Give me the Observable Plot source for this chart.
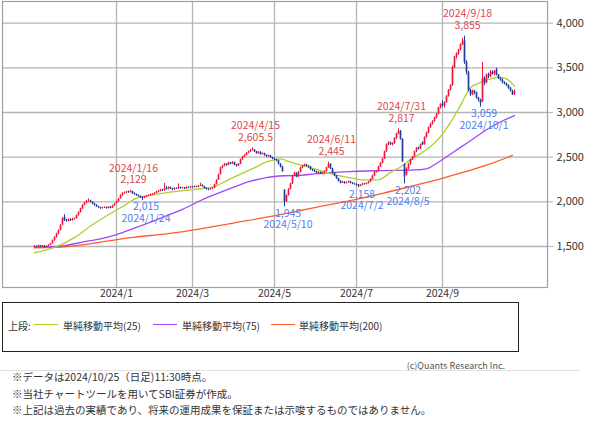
<!DOCTYPE html>
<html><head><meta charset="utf-8">
<script src="https://cdn.jsdelivr.net/npm/d3@7"></script>
<script src="https://cdn.jsdelivr.net/npm/@observablehq/plot@0.6"></script>
<style>
body{margin:0;background:#fff;font-family:"Noto Sans CJK JP","Noto Sans",sans-serif;color:#333;}
#wrap{position:relative;width:600px;height:430px;overflow:hidden;}
#chart{position:absolute;left:0;top:0;}
#legend{position:absolute;left:2px;top:302px;width:517px;height:50px;border:1px solid #222;box-sizing:border-box;}
#legend span{position:absolute;top:22px;transform:translateY(-50%);font-size:10px;color:#333;white-space:nowrap;}
#legend i{position:absolute;top:21px;height:1.3px;width:24px;}
#copy{position:absolute;right:95px;top:359px;font-size:9px;color:#555;}
#hr{position:absolute;left:0;top:370px;width:580px;height:1px;background:#e0e0e0;}
.note{position:absolute;left:12px;font-size:10.5px;color:#333;white-space:nowrap;}
</style>
</head><body>
<div id="wrap">
<div id="chart"></div>
<div id="legend"></div>
<div id="copy">(c)Quants Research Inc.</div>
<div id="hr"></div>
<div class="note" style="top:369px">※データは2024/10/25（日足)11:30時点。</div>
<div class="note" style="top:386px">※当社チャートツールを用いてSBI証券が作成。</div>
<div class="note" style="top:402px">※上記は過去の実績であり、将来の運用成果を保証または示唆するものではありません。</div>
</div>
<script>
// ---- data: daily candles [open, high, low, close] per month ----
const nov23 = [[1490,1510,1485,1500],[1500,1505,1488,1495],[1495,1515,1492,1510],[1510,1512,1495,1498],[1498,1512,1494,1505],[1505,1508,1486,1490],[1490,1506,1488,1502],[1502,1520,1500,1515],[1515,1535,1510,1530],[1532,1572,1528,1565],[1565,1608,1560,1600],[1600,1648,1595,1640],[1640,1685,1632,1675],[1680,1745,1675,1735],[1740,1820,1735,1810],[1830,1855,1780,1790],[1790,1805,1770,1785],[1785,1810,1775,1800],[1800,1808,1780,1790],[1790,1815,1785,1805]];
const dec23 = [[1805,1820,1795,1810],[1812,1852,1808,1845],[1845,1888,1840,1880],[1882,1928,1875,1920],[1920,1968,1915,1960],[1965,1992,1955,1985],[1985,2015,1978,2005],[2010,2032,1995,2010],[2010,2018,1988,1995],[1995,2000,1968,1975],[1975,1985,1952,1960],[1960,1968,1938,1945],[1945,1952,1928,1935],[1935,1940,1915,1925],[1925,1940,1920,1930],[1930,1945,1925,1935],[1935,1940,1918,1925],[1925,1948,1922,1940],[1940,1945,1922,1930],[1930,1962,1928,1955],[1955,1982,1950,1975]];
const jan24 = [[1980,2008,1975,2000],[2000,2038,1995,2030],[2035,2078,2030,2070],[2070,2102,2062,2095],[2095,2110,2085,2100],[2100,2118,2092,2110],[2110,2120,2095,2105],[2105,2129,2098,2115],[2115,2118,2085,2090],[2090,2100,2075,2080],[2080,2088,2062,2070],[2070,2078,2052,2060],[2060,2066,2038,2045],[2045,2058,2015,2040],[2040,2062,2035,2055],[2055,2072,2048,2065],[2065,2078,2058,2070],[2070,2088,2062,2080],[2080,2092,2072,2085]];
const feb24 = [[2085,2102,2078,2095],[2095,2118,2090,2110],[2110,2128,2102,2120],[2120,2140,2112,2130],[2130,2138,2115,2125],[2125,2205,2120,2150],[2150,2172,2132,2140],[2140,2168,2135,2160],[2160,2165,2138,2145],[2145,2150,2125,2135],[2135,2158,2130,2150],[2150,2156,2138,2145],[2145,2200,2140,2160],[2160,2165,2142,2150],[2150,2162,2144,2155],[2155,2160,2138,2145],[2145,2168,2140,2160],[2160,2166,2148,2155],[2155,2172,2150,2165]];
const mar24 = [[2165,2170,2152,2160],[2160,2178,2155,2170],[2170,2175,2158,2165],[2165,2182,2160,2175],[2175,2208,2170,2185],[2185,2190,2165,2170],[2170,2174,2145,2150],[2150,2156,2132,2140],[2140,2146,2125,2135],[2135,2152,2130,2145],[2145,2158,2138,2150],[2152,2198,2148,2190],[2192,2248,2188,2240],[2245,2310,2240,2300],[2305,2390,2300,2380],[2380,2410,2370,2400],[2400,2430,2392,2420],[2420,2428,2398,2410],[2410,2445,2405,2435],[2435,2440,2415,2425]];
const apr24 = [[2425,2450,2420,2440],[2440,2445,2405,2415],[2415,2420,2390,2400],[2400,2428,2395,2420],[2420,2478,2415,2470],[2470,2508,2465,2500],[2500,2528,2495,2520],[2520,2552,2515,2545],[2545,2568,2538,2560],[2560,2585,2552,2575],[2575,2605.5,2568,2580],[2580,2585,2552,2560],[2560,2565,2532,2540],[2540,2562,2535,2555],[2555,2560,2522,2530],[2530,2548,2525,2540],[2540,2545,2512,2520],[2520,2525,2498,2505],[2505,2522,2500,2515],[2515,2520,2488,2495],[2495,2500,2472,2480]];
const may24 = [[2480,2488,2462,2470],[2470,2478,2450,2460],[2460,2465,2412,2420],[2420,2428,2380,2390],[2390,2398,2330,2340],[2130,2135,1945,2000],[2000,2078,1995,2070],[2070,2148,2065,2140],[2140,2208,2135,2200],[2200,2298,2195,2290],[2290,2330,2282,2320],[2320,2325,2270,2280],[2280,2340,2275,2330],[2330,2388,2325,2380],[2380,2408,2372,2400],[2400,2422,2392,2415],[2415,2420,2392,2400],[2400,2405,2380,2390],[2390,2395,2352,2360],[2360,2365,2340,2350],[2350,2356,2328,2335]];
const jun24 = [[2335,2342,2312,2320],[2320,2338,2315,2330],[2330,2335,2305,2310],[2310,2330,2305,2325],[2325,2348,2320,2340],[2340,2388,2335,2380],[2380,2445,2375,2420],[2420,2425,2362,2370],[2370,2375,2312,2320],[2320,2325,2282,2290],[2290,2295,2252,2260],[2260,2265,2222,2230],[2230,2238,2202,2210],[2210,2228,2205,2220],[2220,2225,2198,2205],[2205,2222,2200,2215],[2215,2232,2210,2225],[2225,2230,2202,2210],[2210,2215,2192,2200],[2200,2208,2185,2195]];
const jul24 = [[2195,2200,2175,2190],[2190,2195,2158,2175],[2175,2192,2170,2185],[2185,2208,2180,2200],[2200,2205,2188,2195],[2195,2212,2190,2205],[2205,2228,2200,2220],[2220,2258,2215,2250],[2250,2298,2245,2290],[2290,2338,2285,2330],[2330,2348,2322,2340],[2340,2398,2335,2390],[2390,2438,2385,2430],[2430,2488,2425,2480],[2480,2568,2475,2560],[2560,2648,2555,2640],[2640,2675,2630,2660],[2660,2668,2630,2640],[2640,2662,2625,2650],[2650,2718,2645,2710],[2710,2768,2700,2760],[2760,2817,2750,2790]];
const aug24 = [[2790,2798,2690,2700],[2700,2705,2440,2450],[2420,2425,2202,2280],[2300,2380,2290,2370],[2370,2428,2360,2420],[2420,2478,2410,2470],[2470,2508,2462,2500],[2500,2568,2495,2560],[2560,2608,2552,2600],[2600,2612,2580,2590],[2590,2648,2585,2640],[2660,2672,2630,2640],[2640,2728,2635,2720],[2720,2778,2712,2770],[2770,2838,2762,2830],[2830,2878,2822,2870],[2870,2908,2860,2900],[2900,2948,2892,2940],[2940,2988,2930,2980],[2980,3058,2972,3050],[3050,3098,3040,3090]];
const sep24 = [[3090,3130,3060,3075],[3075,3120,3050,3110],[3110,3188,3105,3180],[3180,3258,3172,3250],[3250,3310,3240,3300],[3300,3520,3295,3500],[3500,3630,3490,3620],[3620,3668,3600,3660],[3660,3708,3640,3700],[3700,3768,3690,3760],[3760,3830,3750,3800],[3800,3855,3540,3560],[3560,3580,3420,3450],[3450,3460,3230,3250],[3250,3262,3180,3200],[3200,3250,3190,3240],[3240,3248,3200,3220],[3220,3228,3150,3160],[3160,3170,3120,3140]];
const oct24 = [[3140,3150,3059,3100],[3120,3560,3110,3380],[3380,3400,3300,3330],[3330,3430,3320,3420],[3420,3440,3380,3400],[3400,3470,3390,3450],[3450,3468,3420,3430],[3430,3470,3410,3460],[3480,3495,3410,3420],[3420,3425,3370,3380],[3380,3390,3350,3360],[3360,3375,3320,3330],[3330,3345,3310,3320],[3320,3330,3290,3300],[3300,3310,3260,3270],[3270,3280,3230,3240],[3240,3250,3190,3200],[3200,3250,3190,3230]];

// moving averages, sampled at trading-day indices
const ma25Days = [0,10,20,30,40,45,50,60,70,80,90,95,100,105,110,115,120,123,128,135,140,150,160,165,172,178,183,188,193,198,203,208,213,218,223,228,232,236,240];
const ma25 = [1430,1490,1600,1760,1895,1960,2030,2080,2115,2140,2170,2225,2280,2330,2380,2440,2470,2480,2445,2400,2370,2305,2260,2245,2246,2330,2390,2470,2540,2620,2730,2890,3080,3280,3335,3376,3395,3376,3295];
const ma75Days = [0,15,25,33,41,50,58,66,74,83,91,99,108,116,125,133,140,157,173,190,196,201,206,213,220,228,234,240];
const ma75 = [1492,1510,1555,1586,1634,1705,1772,1845,1915,2015,2090,2160,2231,2272,2292,2297,2313,2339,2350,2358,2370,2430,2505,2610,2715,2835,2905,2966];
const ma200Days = [0,16,33,50,66,83,100,116,133,140,156,173,190,203,215,226,239];
const ma200 = [1485,1500,1548,1604,1642,1698,1765,1828,1903,1935,2005,2090,2183,2258,2335,2410,2520];

// annotations
const highDates = ["2024-01-16","2024-04-15","2024-06-11","2024-07-31","2024-09-18"];
const highValues = [2129,2605.5,2445,2817,3855];
const lowDates = ["2024-01-24","2024-05-10","2024-07-02","2024-08-05","2024-10-01"];
const lowValues = [2015,1945,2158,2202,3059];

// axis ticks
const tickMonths = ["2024-01","2024-03","2024-05","2024-07","2024-09"];
const tickLabels = ["2024/1","2024/3","2024/5","2024/7","2024/9"];
const yTicks = [1500,2000,2500,3000,3500,4000];

const holidays = ["2023-11-03","2023-11-23","2024-01-01","2024-01-02","2024-01-03","2024-01-08","2024-02-12","2024-02-23","2024-03-20","2024-04-29","2024-05-03","2024-05-06","2024-07-15","2024-08-12","2024-09-16","2024-09-23","2024-10-14"];

// ---- build ----
const days = [];
for (let d = new Date(Date.UTC(2023,10,1)); d <= new Date(Date.UTC(2024,9,25)); d.setUTCDate(d.getUTCDate()+1)) {
  const wd = d.getUTCDay(); const s = d.toISOString().slice(0,10);
  if (wd > 0 && wd < 6 && !holidays.includes(s)) days.push(s);
}
const candles = [nov23,dec23,jan24,feb24,mar24,apr24,may24,jun24,jul24,aug24,sep24,oct24].flat()
  .map(([o,h,l,c], i) => ({i, o, h, l, c}));
const up = candles.filter(d => d.c >= d.o), down = candles.filter(d => d.c < d.o);
const tickIdx = tickMonths.map(m => days.findIndex(s => s.startsWith(m)));
const fmtDate = s => { const [y,m,d] = s.split("-"); return `${y}/${+m}/${+d}`; };
const fmtNum = d3.format(",");
const highAnn = highDates.map((s,k) => ({i: days.indexOf(s), v: highValues[k], label: `${fmtDate(s)}\n${fmtNum(highValues[k])}`}));
const lowAnn = lowDates.map((s,k) => ({i: days.indexOf(s), v: lowValues[k], label: `${fmtNum(lowValues[k])}\n${fmtDate(s)}`}));
const mk = (ds, vs) => ds.map((i,k) => ({i, v: vs[k]}));

const RED = "#f0163a", BLUE = "#1f3c96", RTXT = "#e0464a", BTXT = "#4f7ff0";
const C25 = "#a8d22c", C75 = "#a445f5", C200 = "#ff5a2e";
const GRID = "#b4b4b4";

const chart = Plot.plot({
  width: 600, height: 302,
  marginLeft: 2, marginRight: 53, marginTop: 1, marginBottom: 15,
  style: {fontFamily: '"Noto Sans CJK JP","Noto Sans",sans-serif', fontSize: "11px", color: "#333", background: "#fff"},
  x: {type: "linear", domain: [-16, 256.5], axis: null, label: null},
  y: {domain: [1041, 4243], axis: null, label: null},
  marks: [
    Plot.gridY(yTicks, {stroke: GRID, strokeOpacity: 1, strokeWidth: 1.3}),
    Plot.gridX(tickIdx, {stroke: GRID, strokeOpacity: 1, strokeWidth: 1.3}),
    Plot.axisY(yTicks, {anchor: "right", label: null, tickSize: 5, tickPadding: 4, tickFormat: fmtNum, stroke: GRID, fill: "#333", fontSize: 11}),
    Plot.axisX(tickIdx, {anchor: "bottom", label: null, tickSize: 0, tickPadding: 2, tickFormat: (d,k) => tickLabels[k], fill: "#333", fontSize: 10.5}),
    Plot.frame({stroke: "#a0a0a0", strokeWidth: 1.2}),
    Plot.line(mk(ma200Days, ma200), {x: "i", y: "v", stroke: C200, strokeWidth: 1.3, curve: "monotone-x"}),
    Plot.line(mk(ma75Days, ma75), {x: "i", y: "v", stroke: C75, strokeWidth: 1.3, curve: "monotone-x"}),
    Plot.line(mk(ma25Days, ma25), {x: "i", y: "v", stroke: C25, strokeWidth: 1.3, curve: "monotone-x"}),
    Plot.ruleX(up, {x: "i", y1: "l", y2: "h", stroke: RED, strokeWidth: 1}),
    Plot.ruleX(up, {x: "i", y1: "o", y2: "c", stroke: RED, strokeWidth: 1.7}),
    Plot.ruleX(down, {x: "i", y1: "l", y2: "h", stroke: BLUE, strokeWidth: 1}),
    Plot.ruleX(down, {x: "i", y1: "o", y2: "c", stroke: BLUE, strokeWidth: 1.7}),
    Plot.text(highAnn, {x: "i", y: "v", text: "label", lineAnchor: "bottom", lineHeight: 1.12, dy: -7, dx: 3, fill: RTXT, fontSize: 10.5}),
    Plot.text(lowAnn, {x: "i", y: "v", text: "label", lineAnchor: "top", lineHeight: 1.12, dy: 1.5, dx: 3.5, fill: BTXT, fontSize: 10.5})
  ]
});
document.getElementById("chart").append(chart);

// legend
const legendItems = [["単純移動平均(25)", C25, 31, 60], ["単純移動平均(75)", C75, 150, 179], ["単純移動平均(200)", C200, 268, 296]];
const lg = document.getElementById("legend");
lg.innerHTML = `<span style="left:5px">上段:</span>` + legendItems.map(([t,c,lx,tx]) =>
  `<i style="left:${lx}px;background:${c}"></i><span style="left:${tx}px">${t}</span>`).join("");
</script>
</body></html>
